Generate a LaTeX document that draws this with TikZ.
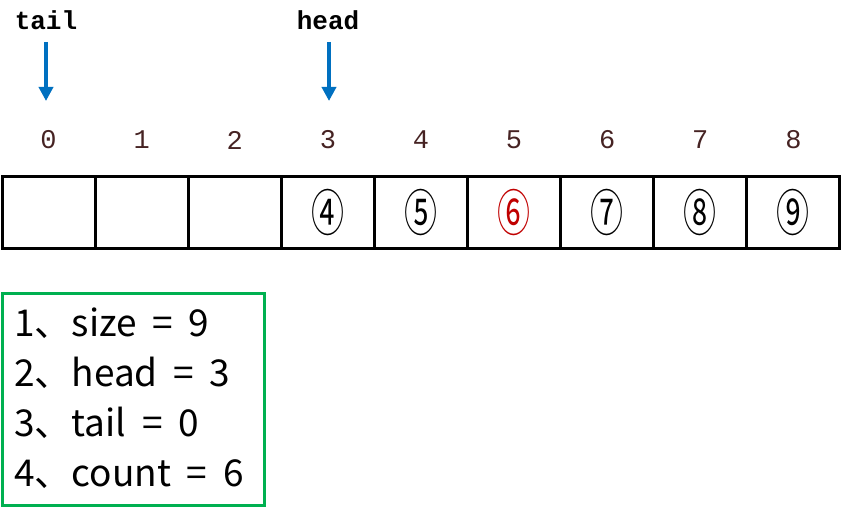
\documentclass[tikz,border=0pt]{standalone}
\usepackage{fontspec}
\usetikzlibrary{arrows.meta}
\newfontfamily\cjk{Noto Sans CJK SC}
\newfontfamily\cjkinfo[WordSpace=1.9]{Noto Sans CJK SC}
\newfontfamily\monof{Liberation Mono}
\definecolor{arrblue}{RGB}{0,112,192}
\definecolor{boxgreen}{RGB}{0,176,80}
\definecolor{idxcol}{RGB}{70,35,35}
\definecolor{redsix}{RGB}{192,0,0}
\tikzset{
  cell/.style={draw, line width=3pt, minimum width=93.1pt, minimum height=72pt, inner sep=0pt, anchor=center},
  idx/.style={font=\monof\fontsize{27}{27}\selectfont, text=idxcol, inner sep=0pt},
  ptr/.style={font=\monof\bfseries\fontsize{26}{26}\selectfont, inner sep=0pt},
  ptrarrow/.style={draw=arrblue, line width=4pt, -{Triangle[width=14pt,length=14pt]}},
  circ/.style={font=\cjk\fontsize{50}{50}\selectfont, inner sep=0pt},
  info/.style={font=\cjkinfo\fontsize{37}{50}\selectfont, align=left, anchor=north west, inner sep=0pt}
}
\newcommand{\cnum}[1]{\scalebox{0.66}[1]{#1}}
\begin{document}
\begin{tikzpicture}[x=1pt,y=-1pt]
\useasboundingbox (0,0) rectangle (850,510);
% cells
\foreach \i in {0,...,8} {
  \node[cell] (c\i) at ({2+93.1*\i+46.55},213) {};
  \node[idx] (i\i) at ({2+93.1*\i+46.55},140) {\i};
}
\node[circ] (n4) at (c3) {\cnum{④}};
\node[circ] (n5) at (c4) {\cnum{⑤}};
\node[circ, text=redsix] (n6) at (c5) {\cnum{⑥}};
\node[circ] (n7) at (c6) {\cnum{⑦}};
\node[circ] (n8) at (c7) {\cnum{⑧}};
\node[circ] (n9) at (c8) {\cnum{⑨}};
% pointers
\node[ptr] (tail) at (46,20) {tail};
\node[ptr] (head) at (328,20) {head};
\coordinate (ta) at (46,42);
\coordinate (tb) at (46,101);
\coordinate (ha) at (329,42);
\coordinate (hb) at (329,101);
\draw[ptrarrow] (ta) -- (tb);
\draw[ptrarrow] (ha) -- (hb);
% info box
\draw[boxgreen, line width=3pt] (2.5,293.5) rectangle (264,505);
\node[info] (info) at (14,308) {1、size = 9\\2、head = 3\\3、tail = 0\\4、count = 6};
\end{tikzpicture}
\end{document}
